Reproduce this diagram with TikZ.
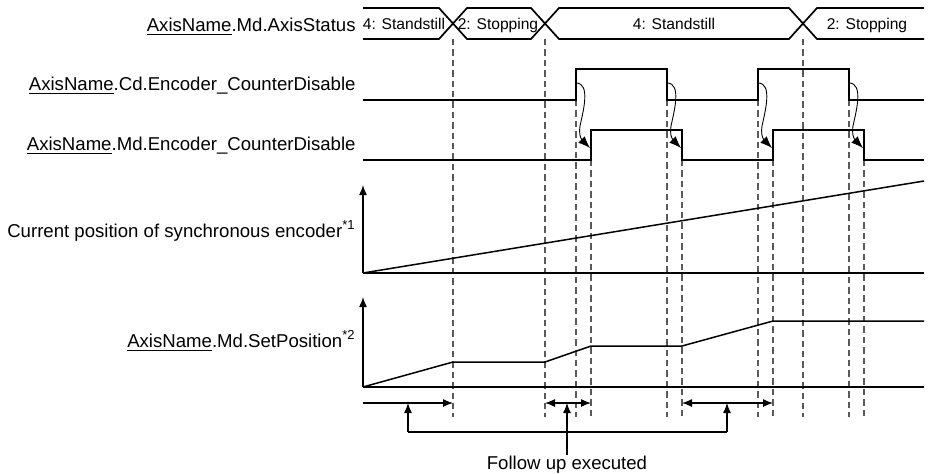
\documentclass[tikz,border=0pt]{standalone}
\usepackage{fontspec}
\setmainfont{Liberation Sans}
\usetikzlibrary{arrows.meta,positioning,calc}
\definecolor{guidegray}{HTML}{5A5A5A}
\tikzset{
  siglabel/.style={anchor=base east, inner sep=0pt, font=\fontsize{9.3}{11}\selectfont},
  bustext/.style={anchor=base, inner sep=0pt, font=\fontsize{7.8}{9}\selectfont},
  signal/.style={line width=0.85pt, line join=miter},
  trend/.style={line width=0.75pt},
  guide/.style={draw=guidegray, line width=0.6pt, dash pattern=on 3.2pt off 2pt},
  axisline/.style={line width=0.7pt, -{Latex[length=5pt,width=4pt]}},
  handoff/.style={line width=0.45pt, -{Latex[length=6pt,width=4.6pt]}},
  span/.style={line width=0.6pt},
  spantip/.tip={Latex[length=5pt,width=4pt]},
}
\newcommand{\axn}{\underline{AxisName}}

\begin{document}
\begin{tikzpicture}[x=0.5pt,y=-0.5pt]
  \useasboundingbox (0,0) rectangle (928,473);
  % signal labels
  \node[siglabel] (lstat) at (356,31) {\axn.Md.AxisStatus};
  \node[siglabel] (lcd) at (356,90) {\axn.Cd.Encoder\_CounterDisable};
  \node[siglabel] (lmd) at (356,150) {\axn.Md.Encoder\_CounterDisable};
  \node[siglabel] (lenc) at (356,237) {Current position of synchronous encoder\textsuperscript{*1}};
  \node[siglabel] (lset) at (356,347) {\axn.Md.SetPosition\textsuperscript{*2}};
  % guide lines
  \foreach \x in {453,545,803} \draw[guide] (\x,39) -- (\x,417);
  \foreach \x in {576,667,758,849} \draw[guide] (\x,100) -- (\x,417);
  \foreach \x in {591,682,773,864} \draw[guide] (\x,160) -- (\x,417);
  % axis status bus
  \draw[signal] (363,8) -- (439,8) -- (467,39) -- (531,39) -- (559,8) -- (789,8) -- (817,39) -- (924,39);
  \draw[signal] (363,39) -- (439,39) -- (467,8) -- (531,8) -- (559,39) -- (789,39) -- (817,8) -- (924,8);
  \node[bustext] (s1) at (404,29) {4: Standstill};
  \node[bustext] (s2) at (498,29) {2: Stopping};
  \node[bustext] (s3) at (674,29) {4: Standstill};
  \node[bustext] (s4) at (867,29) {2: Stopping};
  % counter disable command / monitor
  \draw[signal] (363,100) -- (576,100) -- (576,69) -- (667,69) -- (667,100) -- (758,100) -- (758,69) -- (849,69) -- (849,100) -- (924,100);
  \draw[signal] (363,160) -- (591,160) -- (591,130) -- (682,130) -- (682,160) -- (773,160) -- (773,130) -- (864,130) -- (864,160) -- (924,160);
  \foreach \x in {576,667,758,849}
    \draw[handoff] (\x,83) .. controls (\x+15,83) and (\x+7,112) .. (\x+4,126) .. controls (\x+2,138) and (\x+8,142) .. (\x+14,148);
  % encoder position
  \draw[axisline] (363,273) -- (363,185);
  \draw[trend] (363,273) -- (924,273);
  \draw[trend] (363,273) -- (924,181);
  % set position
  \draw[axisline] (363,387) -- (363,297);
  \draw[trend] (363,387) -- (924,387);
  \draw[trend] (363,387) -- (453,362) -- (545,362) -- (591,346) -- (682,346) -- (773,321) -- (924,321);
  % follow up spans
  \coordinate (a0) at (363,403);
  \coordinate (a1) at (453,403);
  \coordinate (b0) at (545,403);
  \coordinate (b1) at (591,403);
  \coordinate (c0) at (682,403);
  \coordinate (c1) at (773,403);
  \draw[span, -spantip] (a0) -- (a1);
  \draw[span, spantip-spantip] (b0) -- (b1);
  \draw[span, spantip-spantip] (c0) -- (c1);
  \node[siglabel, anchor=base] (follow) at (567,469) {Follow up executed};
  \coordinate (ta) at (408,403);
  \coordinate (tb) at (567,403);
  \coordinate (tc) at (727,403);
  \coordinate (ba) at (408,432);
  \coordinate (bc) at (727,432);
  \draw[span, -spantip] (ba) -- (ta);
  \draw[span, -spantip] (bc) -- (tc);
  \draw[span] (ba) -- (bc);
  \draw[span, -spantip] (follow.north) -- (tb);
\end{tikzpicture}
\end{document}
